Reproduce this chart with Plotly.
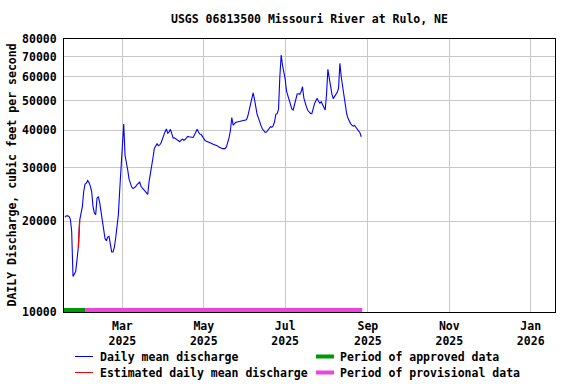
import pandas as pd
import plotly.graph_objects as go

title = "USGS 06813500 Missouri River at Rulo, NE"
y_title = "DAILY Discharge, cubic feet per second"
start_date = "2025-01-17"

jan = [20600, 20800, 20800, 20700, 20300, 18500, 13100, 13300, 13600, 14900, 16400, 20100, 21200, 22300, 25000]
feb = [26500, 26700, 27200, 26800, 26100, 25000, 22300, 21300, 21000, 23800, 24100, 23000, 21500, 20400, 18800,
       17500, 17200, 17700, 17800, 16800, 15800, 15800, 16400, 17600, 19200, 21000, 25300, 30500]
mar = [37000, 41900, 33000, 31500, 29500, 27500, 26600, 25900, 25600, 25800, 26000, 26400, 26700, 26900, 26000,
       25600, 25400, 25100, 24800, 24500, 27000, 28500, 30500, 32500, 34800, 35300, 36000, 35500, 35700, 36300, 37500]
apr = [38500, 39500, 40300, 39000, 39400, 40200, 39000, 37600, 37700, 37400, 37000, 36700, 36600, 37000, 37300,
       37000, 37200, 37700, 38100, 38000, 38000, 37900, 37800, 38500, 39200, 40200, 39400, 38800, 38700, 38000]
may = [37400, 36900, 36700, 36600, 36400, 36300, 36100, 35900, 35800, 35700, 35500, 35200, 35000, 34700, 34700,
       34700, 34700, 35200, 36400, 37800, 40000, 44000, 41500, 42000, 42400, 42500, 42600, 42700, 42900, 42900, 42900]
jun = [43000, 43200, 44500, 46800, 49000, 51200, 53100, 50500, 47400, 45000, 43800, 42300, 41200, 40300, 39700,
       39300, 39400, 40000, 40400, 41000, 40800, 41300, 42500, 45100, 45300, 46800, 60000, 70800, 65500, 62000]
jul = [58900, 53800, 51800, 50300, 48000, 47000, 46600, 48500, 51000, 52600, 52700, 52500, 53600, 55600, 51000,
       49000, 47600, 46400, 45900, 45400, 45300, 47200, 48900, 50000, 50900, 49800, 49100, 49600, 48500, 47300, 46600]
aug = [52500, 63500, 59500, 55000, 52700, 50800, 51600, 52300, 53300, 55000, 66500, 60000, 55500, 52500, 49500,
       45500, 43800, 42600, 42000, 41500, 41200, 41400, 40800, 40200, 39900, 39200, 38000]

estimated_dates = ["2025-01-27", "2025-01-28"]
approved_period = ["2025-01-16 06:00", "2025-02-01 12:00"]
provisional_period = ["2025-02-01 12:00", "2025-08-27 18:00"]

tick_dates = ["2025-03-01", "2025-05-01", "2025-07-01", "2025-09-01", "2025-11-01", "2026-01-01"]
tick_text = ["Mar<br>2025", "May<br>2025", "Jul<br>2025", "Sep<br>2025", "Nov<br>2025", "Jan<br>2026"]
y_ticks = [10000, 20000, 30000, 40000, 50000, 60000, 70000, 80000]
x_range = ["2025-01-16 06:00", "2026-01-19 05:00"]

legend_labels = ["Daily mean discharge", "Estimated daily mean discharge",
                 "Period of approved data", "Period of provisional data"]

flow = jan + feb + mar + apr + may + jun + jul + aug
dates = pd.date_range(start_date, periods=len(flow), freq="D")
series = pd.Series(flow, index=dates)
est = series.loc[pd.to_datetime(estimated_dates)]

FONT = dict(family="DejaVu Sans Mono", size=11.5, color="black", weight="bold")
BLUE = "#0000ff"
RED = "#ff0000"
GREEN = "#009900"
PINK = "#ee44dd"

fig = go.Figure()
fig.add_trace(go.Scatter(x=series.index, y=series.values, mode="lines",
                         line=dict(color=BLUE, width=1.1), showlegend=False))
fig.add_trace(go.Scatter(x=est.index, y=est.values, mode="lines",
                         line=dict(color=RED, width=1.3), showlegend=False))
fig.add_trace(go.Scatter(x=approved_period, y=[y_ticks[0]] * 2, mode="lines",
                         line=dict(color=GREEN, width=8), showlegend=False))
fig.add_trace(go.Scatter(x=provisional_period, y=[y_ticks[0]] * 2, mode="lines",
                         line=dict(color=PINK, width=8), showlegend=False))

L, R, T, B = 64, 21, 39, 72
W, H = 576, 384
pw, ph = W - L - R, H - T - B


def px(x):
    return (x - L) / pw


def py(y):
    return (H - B - y) / ph


shapes = []
annotations = []
legend_items = [
    (75, 93, 357, BLUE, 1, 99, legend_labels[0]),
    (75, 93, 373, RED, 1, 99, legend_labels[1]),
    (316, 334, 357, GREEN, 4, 339, legend_labels[2]),
    (316, 334, 373, PINK, 4, 339, legend_labels[3]),
]
for x0, x1, yy, col, wd, tx, label in legend_items:
    shapes.append(dict(type="line", xref="paper", yref="paper", x0=px(x0), x1=px(x1),
                       y0=py(yy - 0.5), y1=py(yy - 0.5), line=dict(color=col, width=wd)))
    annotations.append(dict(xref="paper", yref="paper", x=px(tx), y=py(yy), text=label,
                            showarrow=False, xanchor="left", yanchor="middle", font=FONT,
                            borderpad=0))

annotations.append(dict(xref="paper", yref="paper", x=px(11), y=0.5, text=y_title,
                        textangle=-90, showarrow=False, xanchor="center", yanchor="middle",
                        font=FONT))
annotations.append(dict(xref="paper", yref="paper", x=0.5, y=py(19), text=title,
                        showarrow=False, xanchor="center", yanchor="middle", font=FONT))

fig.update_layout(
    width=W, height=H,
    margin=dict(l=L, r=R, t=T, b=B, pad=0),
    paper_bgcolor="white", plot_bgcolor="white",
    font=FONT,
    shapes=shapes,
    annotations=annotations,
    showlegend=False,
)
fig.update_xaxes(type="date", range=x_range, tickvals=tick_dates, ticktext=tick_text,
                 showgrid=True, gridcolor="#c8c8c8", gridwidth=1, showline=True,
                 linecolor="black", linewidth=1, mirror=True, ticks="", tickfont=FONT,
                 ticklabelstandoff=3, zeroline=False)
fig.update_yaxes(type="log", range=[4, 4.90309], tickvals=y_ticks,
                 ticktext=[str(v) for v in y_ticks],
                 showgrid=True, gridcolor="#c8c8c8", gridwidth=1, showline=True,
                 linecolor="black", linewidth=1, mirror=True, ticks="", tickfont=FONT,
                 ticklabelstandoff=4, zeroline=False)

fig.write_html("out.html")
